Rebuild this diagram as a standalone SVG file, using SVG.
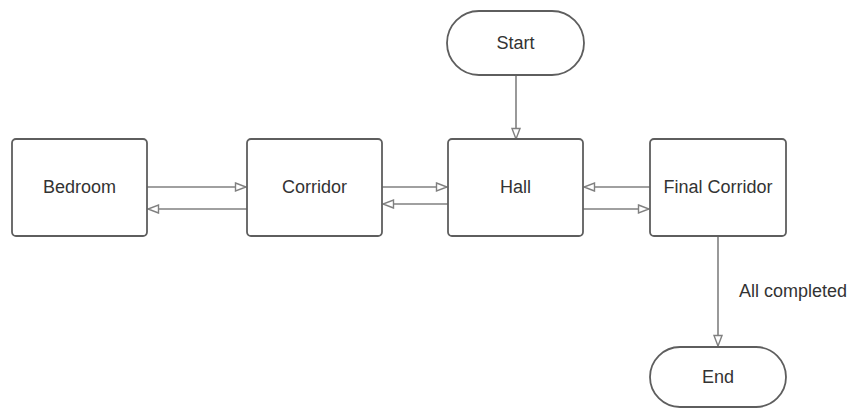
<svg xmlns="http://www.w3.org/2000/svg" width="849" height="408" viewBox="0 0 849 408">
<style>
.box{fill:#ffffff;stroke:#5e5e5e;stroke-width:1.8}
.lbl{font-family:"Liberation Sans",Arial,sans-serif;font-size:18px;fill:#333333;text-anchor:middle}
.edge{fill:none;stroke:#808080;stroke-width:1.6;marker-end:url(#arr)}
</style>
<defs>
<marker id="arr" markerUnits="userSpaceOnUse" markerWidth="14" markerHeight="12" viewBox="0 0 14 12" refX="12" refY="6" orient="auto">
<path d="M1.5,2 L12,6 L1.5,10 Z" fill="#ffffff" stroke="#808080" stroke-width="1.4"/>
</marker>
</defs>
<rect width="849" height="408" fill="#ffffff"/>
<g id="connectors">
<line class="edge" x1="516" y1="76" x2="516" y2="139"/>
<line class="edge" x1="147" y1="187" x2="246" y2="187"/>
<line class="edge" x1="247" y1="209" x2="148" y2="209"/>
<line class="edge" x1="382" y1="187" x2="447" y2="187"/>
<line class="edge" x1="448" y1="204" x2="383" y2="204"/>
<line class="edge" x1="650" y1="187" x2="584" y2="187"/>
<line class="edge" x1="583" y1="209" x2="649" y2="209"/>
<line class="edge" x1="718" y1="236" x2="718" y2="346"/>
<text class="lbl" x="793" y="297">All completed</text>
</g>
<g id="start">
<rect class="box" x="447" y="11" width="137" height="64" rx="32" ry="32"/>
<text class="lbl" x="515.5" y="49">Start</text>
</g>
<g id="bedroom">
<rect class="box" x="12" y="139" width="135" height="97" rx="4"/>
<text class="lbl" x="79.5" y="193">Bedroom</text>
</g>
<g id="corridor">
<rect class="box" x="247" y="139" width="135" height="97" rx="4"/>
<text class="lbl" x="314.5" y="193">Corridor</text>
</g>
<g id="hall">
<rect class="box" x="448" y="139" width="135" height="97" rx="4"/>
<text class="lbl" x="515.5" y="193">Hall</text>
</g>
<g id="final-corridor">
<rect class="box" x="650" y="139" width="136" height="97" rx="4"/>
<text class="lbl" x="718" y="193">Final Corridor</text>
</g>
<g id="end">
<rect class="box" x="650" y="347" width="136" height="60" rx="30" ry="30"/>
<text class="lbl" x="718" y="383">End</text>
</g>
</svg>
